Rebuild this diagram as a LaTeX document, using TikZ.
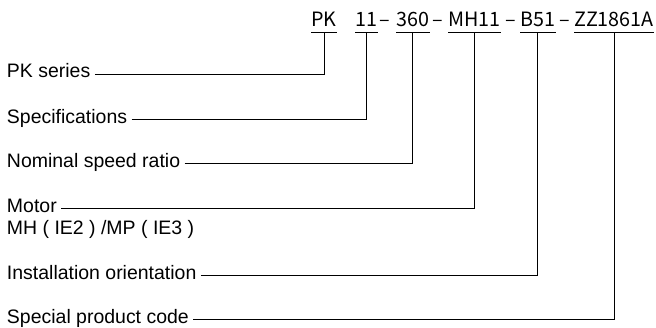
\documentclass[tikz,border=0pt]{standalone}
\usepackage{fontspec}
\setmainfont{Liberation Sans}
\newfontfamily\codefont{Noto Sans CJK SC}
\begin{document}
\begin{tikzpicture}[x=0.75pt,y=-0.75pt,line width=0.75pt,
  lbl/.style={anchor=base west,inner xsep=3pt,inner ysep=0pt,font=\fontsize{14.6}{17}\selectfont},
  part/.style={anchor=base west,inner xsep=0pt,inner ysep=3.75pt,text depth=0pt,font=\codefont\fontsize{14.8}{17}\selectfont},
  sepmark/.style={anchor=base west,inner sep=0pt,font=\codefont\fontsize{14.8}{17}\selectfont}]
\useasboundingbox (0,0) rectangle (656,328);
% type code
\node[part] (pk) at (311,27) {PK};
\node[part] (spec) at (355,27) {11};
\node[sepmark] (d1) at (379,27) {–};
\node[part] (ratio) at (396,27) {360};
\node[sepmark] (d2) at (432,27) {–};
\node[part] (motor) at (448,27) {MH11};
\node[sepmark] (d3) at (505,27) {–};
\node[part] (mount) at (520,27) {B51};
\node[sepmark] (d4) at (559,27) {–};
\node[part] (special) at (574,27) {ZZ1861A};
\foreach \n in {pk,spec,ratio,motor,mount,special}
  \draw (\n.south west) -- (\n.south east);
% labels
\node[lbl] (pkl) at (2.5,78) {PK series};
\node[lbl] (specl) at (2.5,123) {Specifications};
\node[lbl] (ratiol) at (2.5,167) {Nominal speed ratio};
\node[lbl] (motorl) at (2.5,212) {Motor};
\node[lbl] (motorl2) at (2.5,234) {MH ( IE2 ) /MP ( IE3 )};
\node[lbl] (mountl) at (2.5,279) {Installation orientation};
\node[lbl] (speciall) at (2.5,323) {Special product code};
% connectors
\draw (pkl.mid east) -| (pk.south);
\draw (specl.mid east) -| (spec.south);
\draw (ratiol.mid east) -| (ratio.south);
\draw (motorl.mid east) -| (motor.south);
\draw (mountl.mid east) -| (mount.south);
\draw (speciall.mid east) -| (special.south);
\end{tikzpicture}
\end{document}
